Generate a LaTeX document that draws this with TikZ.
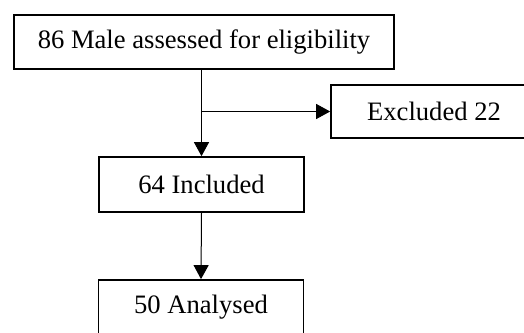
\documentclass[tikz,border=0pt]{standalone}
\usepackage{fontspec}
\setmainfont{Liberation Serif}
\usetikzlibrary{arrows.meta}
\begin{document}
\begin{tikzpicture}[x=1pt,y=-1pt,
  box/.style={draw=black,line width=1.7pt,rectangle,inner sep=0pt,
    font=\fontsize{26.6}{32}\selectfont},
  arr/.style={draw=black,line width=1pt,-{Triangle[length=14pt,width=15pt]}}]
\useasboundingbox (0,0) rectangle (524,332);
\clip (0,0) rectangle (524,332);
\node[box,minimum width=380pt,minimum height=54pt] (top) at (204,42) {86 Male assessed for eligibility};
\node[box,minimum width=206pt,minimum height=53pt] (excl) at (434,111.5) {Excluded 22};
\node[box,minimum width=205pt,minimum height=55pt] (inc) at (201.5,184.5) {64 Included};
\node[box,minimum width=205pt,minimum height=55pt] (ana) at (201,307.5) {50 Analysed};
\coordinate (br) at (inc.north |- excl.west);
\draw[arr] (inc.north |- top.south) -- (inc.north);
\draw[arr] (br) -- (excl.west);
\draw[arr] (inc.south) -- (ana.north);
\end{tikzpicture}
\end{document}
